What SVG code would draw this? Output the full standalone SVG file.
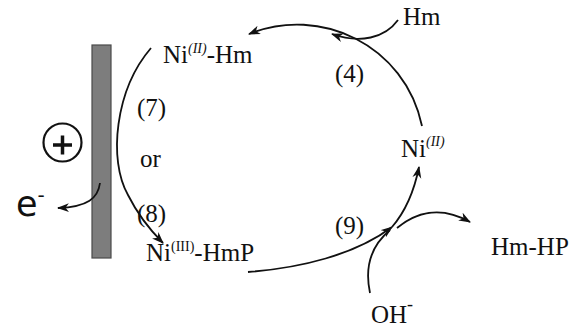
<svg xmlns="http://www.w3.org/2000/svg" width="583" height="334" viewBox="0 0 583 334">
<style>
.t{font-family:"Liberation Serif","Times New Roman",serif;font-size:25px;fill:#111}
.s{font-size:14px}
.c{fill:none;stroke:#111;stroke-width:1.8}
</style>
<defs>
<marker id="ah" markerUnits="userSpaceOnUse" markerWidth="14" markerHeight="10" refX="11" refY="4.5" orient="auto">
<path d="M0,0 L12,4.5 L0,9 L3.5,4.5 z" fill="#111"/>
</marker>
</defs>
<rect width="583" height="334" fill="#fff"/>
<g id="electrode">
<rect x="92" y="45" width="19" height="213" fill="#7d7d7d" stroke="#4a4a4a" stroke-width="1.2"/>
</g>
<g id="plus">
<circle cx="62.5" cy="142.5" r="19" fill="none" stroke="#111" stroke-width="2.2"/>
<path d="M53,145 H72 M62.5,135.5 V154.5" stroke="#111" stroke-width="3.5" fill="none"/>
</g>
<g id="electron">
<text x="16" y="216" style="font-family:'DejaVu Sans',sans-serif;font-size:35px;fill:#111">e<tspan dy="-14" style="font-size:20px">-</tspan></text>
</g>
<g id="connectors">
<path class="c" d="M100,183 C98,198 88,207 58,208" marker-end="url(#ah)"/>
<path class="c" d="M422,126 C405,45 320,5 249,34" marker-end="url(#ah)"/>
<path class="c" d="M398,20 C385,38 360,44 332,34" marker-end="url(#ah)"/>
<path class="c" d="M151,48 C115,90 108,160 128,195 C138,215 150,230 163,243" marker-end="url(#ah)"/>
<path class="c" d="M248,272 C300,268 355,255 392,227" marker-end="url(#ah)"/>
<path class="c" d="M392,227 C405,212 414,192 419,167" marker-end="url(#ah)"/>
<path class="c" d="M370,293 C364,265 372,245 390,230"/>
<path class="c" d="M397,228 C415,213 440,205 470,222" marker-end="url(#ah)"/>
</g>
<g id="ni2hm"><text class="t" x="163" y="63">Ni<tspan class="s" dy="-10" font-style="italic">(II)</tspan><tspan dy="10">-Hm</tspan></text></g>
<g id="hm"><text class="t" x="403" y="25">Hm</text></g>
<g id="r4"><text class="t" x="335" y="82">(4)</text></g>
<g id="ni2"><text class="t" x="401" y="157">Ni<tspan class="s" dy="-11" font-style="italic">(II)</tspan></text></g>
<g id="r7"><text class="t" x="137" y="116">(7)</text></g>
<g id="or"><text class="t" x="140" y="167">or</text></g>
<g id="r8"><text class="t" x="137" y="222">(8)</text></g>
<g id="ni3hmp"><text class="t" x="146" y="261">Ni<tspan class="s" dy="-10">(III)</tspan><tspan dy="10">-HmP</tspan></text></g>
<g id="r9"><text class="t" x="335" y="234">(9)</text></g>
<g id="hmhp"><text class="t" x="491" y="255">Hm-HP</text></g>
<g id="oh"><text class="t" x="371" y="323">OH<tspan dy="-13" style="font-size:18px">-</tspan></text></g>
</svg>
